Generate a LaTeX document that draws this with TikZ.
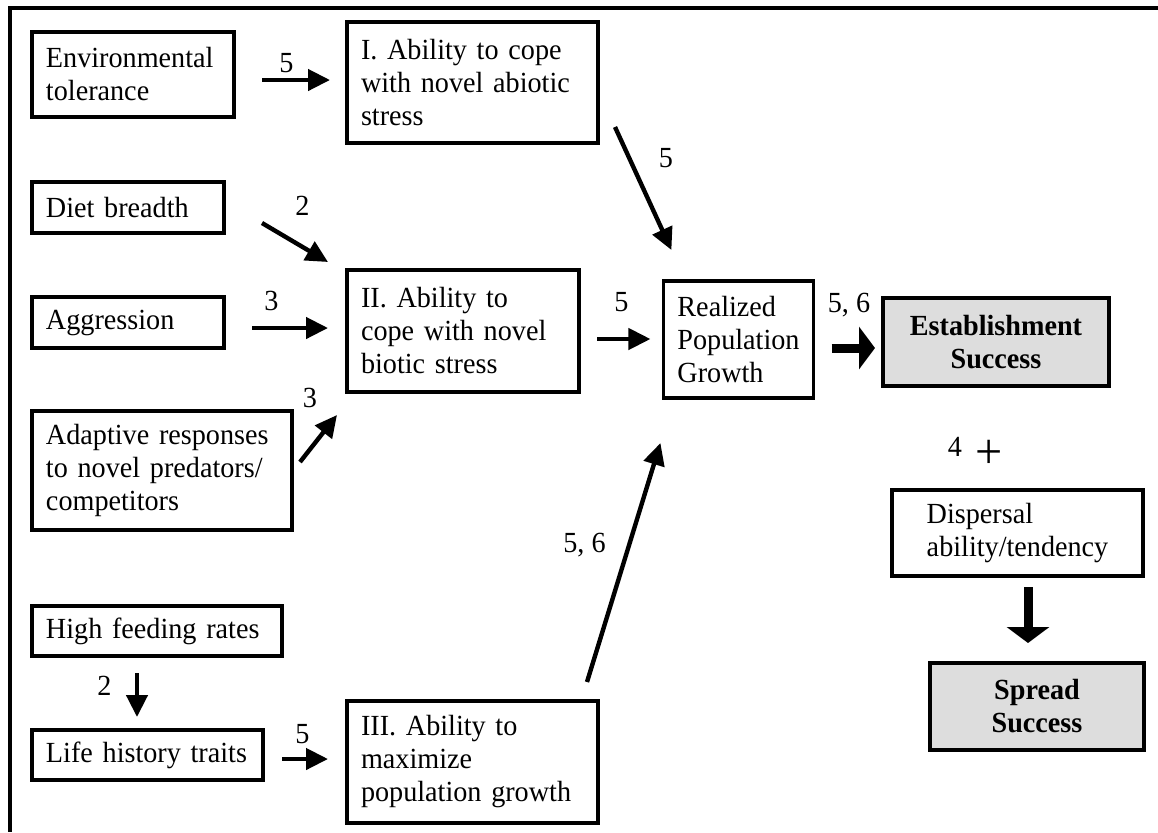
\documentclass[tikz,border=0pt]{standalone}
\usepackage{fontspec}
\setmainfont{Liberation Serif}[FakeStretch=0.965]
\usetikzlibrary{arrows.meta,calc}
\definecolor{boxgray}{RGB}{221,221,221}
\begin{document}
\begin{tikzpicture}[x=0.5pt,y=-0.5pt,
  txt/.style={font=\fontsize{14.6pt}{16.5pt}\selectfont},
  box/.style={draw, line width=1.8pt, outer sep=0pt, inner xsep=7pt, inner ysep=0pt, align=left, txt},
  tbox/.style={box, line width=2.4pt},
  gbox/.style={tbox, fill=boxgray, align=center, font=\fontsize{14.6pt}{16.5pt}\selectfont\bfseries},
  arr/.style={line width=2.2pt, -{Triangle[length=11pt,width=10.5pt]}},
  bigarr/.style={line width=4.5pt, -{Triangle[length=8pt,width=21pt]}},
  lab/.style={anchor=base, inner sep=0pt, txt}]
\useasboundingbox (0,0) rectangle (1158,832);
% frame
\draw[line width=2pt] (1158,8) -- (9.5,8) -- (9.5,832);
% nodes
\node[box, text width=87pt, minimum height=42.5pt] (env) at (133,74.5) {Environmental\\tolerance};
\node[tbox, text width=111.5pt, minimum height=60.5pt] (abio) at (472.5,82.5) {I. Ability to cope\\with novel abiotic\\stress};
\node[box, text width=82pt, minimum height=25.5pt] (diet) at (128,207.5) {Diet breadth};
\node[tbox, text width=102pt, minimum height=61pt] (bio) at (463,331) {II. Ability to\\cope with novel\\biotic stress};
\node[box, text width=82pt, minimum height=25.5pt] (aggr) at (128,322.5) {Aggression};
\node[box, text width=116pt, minimum height=59.5pt] (adapt) at (162,470.5) {Adaptive responses\\to novel predators/\\competitors};
\node[box, text width=111pt, minimum height=25pt] (feed) at (157,631) {High feeding rates};
\node[box, text width=101.5pt, minimum height=25pt] (life) at (147.5,755) {Life history traits};
\node[tbox, text width=111.5pt, minimum height=61pt] (maxg) at (472.5,762) {III. Ability to\\maximize\\population growth};
\node[box, minimum width=73.5pt, minimum height=58.5pt] (rpg) at (738.5,339.5) {Realized\\Population\\Growth};
\node[gbox, text width=99pt, minimum height=44pt] (est) at (996,342) {Establishment\\Success};
\node[box, minimum width=125.5pt, minimum height=43pt] (disp) at (1017.5,533) {Dispersal\\ability/tendency};
\node[gbox, text width=93pt, minimum height=43.5pt] (spread) at (1037,706.5) {Spread\\Success};
% arrows
\draw[arr] ($(env.east)+(28,5.5)$) -- ($(abio.west)+(-17,-2.5)$);
\draw[arr] ($(abio.south east)+(17,-16)$) -- ($(rpg.north west)+(8,-31)$);
\draw[arr] ($(diet.east)+(38,15.5)$) -- ($(bio.north west)+(-19,-8)$);
\draw[arr] ($(aggr.east)+(28,5.5)$) -- ($(bio.west)+(-19,-3)$);
\draw[arr] ($(bio.east)+(18,8)$) -- ($(rpg.west)+(-13,-0.5)$);
\draw[arr] ($(adapt.east)+(8,-8.5)$) -- ($(bio.south west)+(-10,23)$);
\draw[bigarr] ($(rpg.east)+(18,8.5)$) -- ($(est.west)+(-8,6)$);
\draw[arr] ($(maxg.north east)+(-11,-19)$) -- ($(rpg.south west)+(-3,45)$);
\draw[bigarr] ($(disp.south)+(10.5,11)$) -- ($(spread.north)+(-9,-20)$);
\draw[arr] ($(feed.south)+(-20,17)$) -- ($(life.north)+(-10.5,-13)$);
\draw[arr] ($(life.east)+(19,4)$) -- ($(maxg.west)+(-19,-3)$);
% labels
\node[lab] (l1) at (286.5,72) {5};
\node[lab] (l2) at (666,167) {5};
\node[lab] (l3) at (302.5,215) {2};
\node[lab] (l4) at (271.5,310) {3};
\node[lab] (l5) at (621.5,311) {5};
\node[lab] (l6) at (310,407) {3};
\node[lab] (l7) at (849,312) {5, 6};
\node[lab] (l8) at (955,456) {4};
\node[inner sep=0pt, font=\fontsize{25pt}{25pt}\selectfont] (plus) at (989,454) {+};
\node[lab] (l10) at (584.5,552) {5, 6};
\node[lab] (l11) at (104.5,695) {2};
\node[lab] (l12) at (302.5,743) {5};
\end{tikzpicture}
\end{document}
